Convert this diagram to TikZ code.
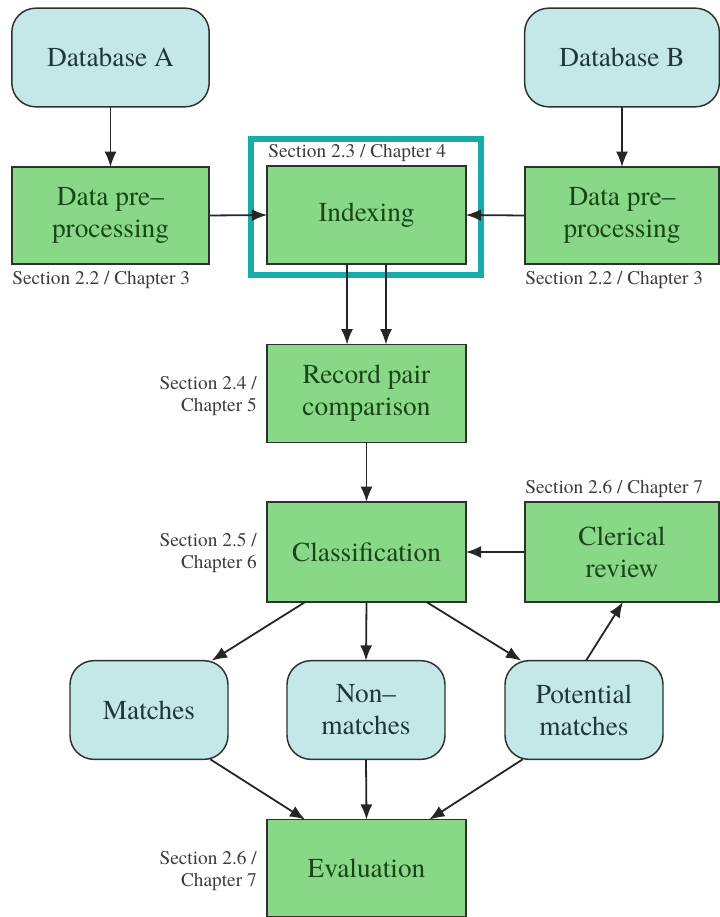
\documentclass[tikz,border=0pt]{standalone}
\usepackage{fontspec}
\setmainfont{texgyretermes-regular.otf}
\usetikzlibrary{arrows.meta}
\definecolor{gfill}{RGB}{136,216,136}
\definecolor{gtext}{RGB}{24,70,24}
\definecolor{bfill}{RGB}{196,232,232}
\definecolor{btext}{RGB}{30,55,55}
\definecolor{edge}{RGB}{45,50,45}
\definecolor{lbl}{RGB}{60,60,60}
\definecolor{teal2}{RGB}{22,172,172}
\tikzset{
  gbox/.style={draw=edge, line width=1.1pt, fill=gfill, text=gtext, minimum width=149pt, minimum height=73.5pt, inner sep=0pt, outer sep=0pt, align=center, font=\fontsize{20.5}{24}\selectfont},
  bbox/.style={draw=edge, line width=1.1pt, fill=bfill, text=btext, rounded corners=18pt, minimum height=74pt, inner sep=0pt, outer sep=0pt, align=center, font=\fontsize{20.5}{24}\selectfont},
  lab/.style={text=lbl, inner sep=0pt, font=\fontsize{14.5}{16.5}\selectfont},
  arr/.style={draw=black!85, line width=1.35pt, -{Latex[length=11.5pt,width=9pt]}}
}
\begin{document}
\begin{tikzpicture}[x=0.75pt,y=-0.75pt]
\useasboundingbox (0,0) rectangle (720,917);
% top row
\node[bbox, minimum width=148pt] (dba) at (110.5,57.5) {Database A};
\node[bbox, minimum width=146pt] (dbb) at (622,57.5) {Database B};
\node[gbox, minimum width=148pt, minimum height=72.75pt] (dpa) at (110.5,215.5) {Data pre–\\processing};
\node[gbox, minimum width=145.5pt, minimum height=72.75pt] (dpb) at (622,215.5) {Data pre–\\processing};
\node[gbox, minimum height=73.5pt] (idx) at (366.5,215) {Indexing};
\node[draw=teal2, line width=3.8pt, minimum width=172.5pt, minimum height=102pt, inner sep=0pt, outer sep=0pt] (hl) at (366,207) {};
% middle
\node[gbox] (rpc) at (366.5,393.5) {Record pair\\comparison};
\node[gbox, minimum height=75pt] (cls) at (366.5,552) {Classification};
\node[gbox, minimum width=145.5pt, minimum height=75pt] (cr) at (622,552) {Clerical\\review};
% outcomes
\node[bbox, minimum width=118.5pt] (mat) at (149,710) {Matches};
\node[bbox, minimum width=118.5pt] (non) at (366,710) {Non–\\matches};
\node[bbox, minimum width=118.5pt] (pot) at (584,710) {Potential\\matches};
\node[gbox, minimum height=72.5pt] (ev) at (366.5,868) {Evaluation};
% labels
\node[lab, anchor=west] (l1) at (12,280) {Section 2.2 / Chapter 3};
\node[lab, anchor=west] (l2) at (525,280) {Section 2.2 / Chapter 3};
\node[lab, anchor=west] (l3) at (268,153) {Section 2.3 / Chapter 4};
\node[lab, anchor=east, align=right] (l4) at (257,396) {Section 2.4 /\\Chapter 5};
\node[lab, anchor=east, align=right] (l5) at (257,553) {Section 2.5 /\\Chapter 6};
\node[lab, anchor=west] (l6) at (525,489) {Section 2.6 / Chapter 7};
\node[lab, anchor=east, align=right] (l7) at (257,871) {Section 2.6 /\\Chapter 7};
% arrows
\draw[arr] (dba.south) -- (dpa.north);
\draw[arr] (dbb.south) -- (dpb.north);
\draw[arr] (dpa.east) -- (idx.west);
\draw[arr] (dpb.west) -- (idx.east);
\draw[arr] ([xshift=-14.6pt]idx.south) -- ([xshift=-14.6pt]rpc.north);
\draw[arr] ([xshift=14.6pt]idx.south) -- ([xshift=14.6pt]rpc.north);
\draw[arr] (rpc.south) -- (cls.north);
\draw[arr] (cr.west) -- (cls.east);
\draw[arr] ([xshift=-46pt]cls.south) -- ([xshift=47pt]mat.north);
\draw[arr] (cls.south) -- (non.north);
\draw[arr] ([xshift=45pt]cls.south) -- ([xshift=-47pt]pot.north);
\draw[arr] ([xshift=1.5pt]pot.north) -- ([xshift=0.75pt]cr.south);
\draw[arr] ([xshift=46pt]mat.south) -- ([xshift=-46pt]ev.north);
\draw[arr] (non.south) -- (ev.north);
\draw[arr] ([xshift=-46pt]pot.south) -- ([xshift=47pt]ev.north);
\end{tikzpicture}
\end{document}
